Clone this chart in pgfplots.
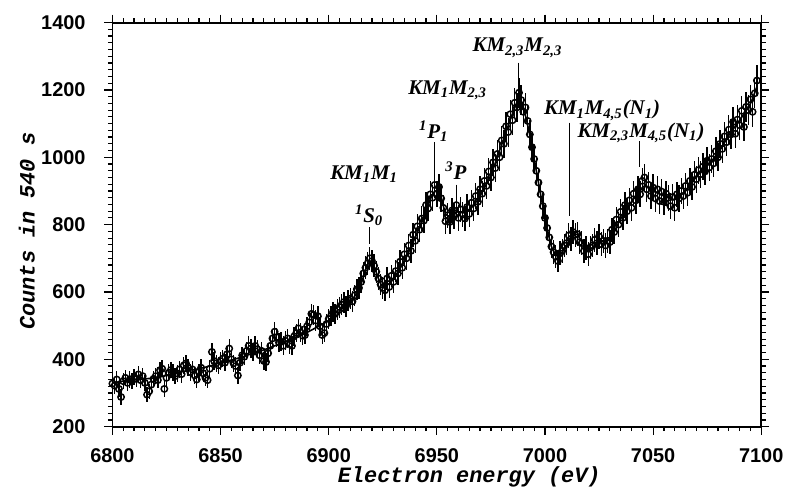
\documentclass[border=0pt]{standalone}
\usepackage{fontspec}
\setmainfont{Liberation Serif}
\newfontfamily\lblfont{Liberation Mono}
\newfontfamily\tickfont{Liberation Sans}
\usepackage{pgfplots}
\usepackage{pgfplotstable}
\pgfplotsset{compat=1.18}

% energy (eV), counts, error
\pgfplotstableread{
x y e
6800 328 24
6801 322 24
6802 340 24
6803 312 23
6804 288 23
6805 335 24
6806 345 24
6807 330 24
6808 340 24
6809 335 24
6810 348 24
6811 342 24
6812 355 25
6813 338 24
6814 350 24
6815 330 24
6816 295 23
6817 305 23
6818 325 24
6819 342 24
6820 350 24
6821 338 24
6822 368 25
6823 372 25
6824 312 23
6825 345 24
6826 360 25
6827 368 25
6828 362 25
6829 350 24
6830 358 25
6831 370 25
6832 356 25
6833 382 26
6834 388 26
6835 375 25
6836 362 25
6837 370 25
6838 352 24
6839 340 24
6840 362 25
6841 375 25
6842 358 25
6843 345 24
6844 338 24
6845 372 25
6846 422 27
6847 395 26
6848 388 26
6849 382 26
6850 395 26
6851 402 26
6852 390 26
6853 415 26
6854 432 27
6855 400 26
6856 388 26
6857 380 26
6858 352 24
6859 390 26
6860 412 26
6861 408 26
6862 425 27
6863 440 28
6864 432 27
6865 422 27
6866 440 28
6867 430 27
6868 412 26
6869 425 27
6870 395 26
6871 392 26
6872 418 27
6873 440 28
6874 462 28
6875 482 28
6876 465 28
6877 450 28
6878 452 28
6879 440 28
6880 455 28
6881 462 28
6882 445 28
6883 440 28
6884 468 28
6885 478 28
6886 492 29
6887 480 28
6888 470 28
6889 472 28
6890 498 29
6891 510 30
6892 535 30
6893 532 30
6894 515 30
6895 528 30
6896 498 29
6897 472 28
6898 478 28
6899 505 29
6900 520 30
6901 528 30
6902 540 30
6903 535 30
6904 548 30
6905 555 31
6906 562 31
6907 570 31
6908 558 31
6909 575 31
6910 580 31
6911 572 31
6912 590 32
6913 608 32
6914 612 32
6915 630 33
6916 655 33
6917 672 34
6918 685 34
6919 700 34
6920 692 34
6921 678 34
6922 660 33
6923 640 33
6924 622 32
6925 612 32
6926 605 32
6927 640 33
6928 615 32
6929 648 33
6930 630 33
6931 662 33
6932 655 34
6933 690 34
6934 672 34
6935 712 34
6936 700 35
6937 738 35
6938 722 35
6939 770 36
6940 752 36
6941 795 36
6942 785 37
6943 818 37
6944 812 37
6945 858 38
6946 848 38
6947 890 39
6948 880 39
6949 918 39
6950 892 39
6951 912 39
6952 878 39
6953 850 38
6954 810 37
6955 828 37
6956 808 37
6957 842 37
6958 825 38
6959 858 38
6960 820 38
6961 845 37
6962 830 38
6963 818 37
6964 852 38
6965 832 38
6966 865 38
6967 848 38
6968 885 38
6969 868 39
6970 905 39
6971 892 39
6972 930 39
6973 915 40
6974 958 40
6975 940 40
6976 985 40
6977 968 41
6978 1010 41
6979 1000 41
6980 1050 42
6981 1040 42
6982 1092 43
6983 1075 43
6984 1128 43
6985 1110 44
6986 1162 44
6987 1148 44
6988 1192 45
6989 1170 44
6990 1135 44
6991 1148 44
6992 1108 43
6993 1068 42
6994 1030 42
6995 995 41
6996 960 40
6997 925 40
6998 890 39
6999 855 38
7000 820 37
7001 790 37
7002 762 36
7003 735 35
7004 718 35
7005 705 35
7006 692 34
7007 715 35
7008 722 35
7009 738 35
7010 745 36
7011 768 36
7012 758 36
7013 778 36
7014 770 36
7015 772 36
7016 748 36
7017 745 35
7018 722 35
7019 730 35
7020 712 35
7021 732 35
7022 738 35
7023 755 36
7024 745 36
7025 765 36
7026 742 36
7027 752 35
7028 738 36
7029 752 35
7030 748 36
7031 785 36
7032 778 37
7033 815 37
7034 800 37
7035 838 37
7036 820 37
7037 858 38
7038 840 38
7039 872 38
7040 850 38
7041 892 39
7042 872 39
7043 905 39
7044 890 39
7045 930 39
7046 940 40
7047 905 39
7048 918 39
7049 885 39
7050 910 39
7051 878 39
7052 905 39
7053 870 39
7054 898 39
7055 868 39
7056 892 38
7057 880 39
7058 855 39
7059 882 38
7060 850 38
7061 890 38
7062 878 39
7063 900 39
7064 885 39
7065 915 39
7066 895 39
7067 930 39
7068 912 40
7069 948 40
7070 935 40
7071 962 40
7072 950 40
7073 972 40
7074 958 40
7075 990 41
7076 970 41
7077 995 41
7078 982 41
7079 1018 41
7080 1000 41
7081 1040 42
7082 1025 42
7083 1062 42
7084 1045 42
7085 1082 43
7086 1068 43
7087 1105 43
7088 1070 43
7089 1112 43
7090 1095 43
7091 1138 44
7092 1090 43
7093 1150 44
7094 1140 44
7095 1172 44
7096 1135 44
7097 1190 45
7098 1228 46
}\spectrum

\begin{document}
\begin{tikzpicture}
\begin{axis}[
  width=326pt, height=203pt, scale only axis,
  xmin=6800, xmax=7100, ymin=200, ymax=1400,
  xtick={6800,6850,...,7100},
  ytick={200,400,...,1400},
  minor x tick num=9, minor y tick num=9,
  tick align=outside,
  major tick length=4pt, minor tick length=2.3pt,
  every tick/.style={black, line width=0.6pt},
  axis line style={line width=0.9pt},
  ticklabel style={font=\tickfont\bfseries\fontsize{10}{11}\selectfont},
  xticklabel style={yshift=-3.5pt},
  yticklabel style={xshift=-6pt},
  /pgf/number format/assume math mode=true,
  /pgf/number format/1000 sep={},
  xlabel={Electron energy (eV)},
  ylabel={Counts in 540 s},
  label style={font=\lblfont\bfseries\itshape\fontsize{11}{12}\selectfont},
  xlabel style={at={(axis description cs:0.55,-0.125)}, anchor=center},
  ylabel style={at={(axis description cs:-0.132,0.484)}, anchor=center},
  clip=false,
]

% measured spectrum with error bars
\addplot[only marks, black, mark=o, mark size=1.6pt, mark options={line width=0.75pt},
  error bars/.cd, y dir=both, y explicit, error mark=none,
  error bar style={line width=0.7pt}]
  table[x=x, y=y, y error=e] {\spectrum};

% fitted curve
\addplot[black, line width=0.8pt, smooth, tension=0.4] coordinates {
(6800,330) (6805,335) (6810,340) (6815,342) (6820,345) (6825,352)
(6830,360) (6835,367) (6840,372) (6845,380) (6850,390) (6855,398)
(6860,407) (6865,418) (6870,428) (6875,440) (6880,452) (6885,465)
(6890,480) (6895,497) (6900,515) (6905,537) (6910,565) (6915,625)
(6917,665) (6919,690) (6921,675) (6923,640) (6925,615) (6928,625)
(6930,640) (6935,692) (6940,762) (6945,842) (6948,890) (6950,900)
(6952,882) (6954,832) (6956,825) (6958,835) (6960,838) (6963,835)
(6966,850) (6970,885) (6975,948) (6980,1038) (6985,1130) (6988,1175)
(6990,1150) (6993,1065) (6996,960) (7000,820) (7003,735) (7006,705)
(7009,728) (7012,762) (7015,770) (7018,740) (7021,727) (7025,750)
(7030,755) (7034,805) (7038,850) (7042,885) (7046,915) (7050,900)
(7055,885) (7060,875) (7065,900) (7070,942) (7075,975) (7080,1012)
(7085,1065) (7090,1110) (7095,1160) (7098,1210)
};

% transition labels
\begin{scope}[every node/.style={font=\bfseries\itshape\fontsize{10.5}{12}\selectfont, inner sep=0pt}]
\node at (axis cs:6916.4,949) {KM\textsubscript{1}M\textsubscript{1}};
\node at (axis cs:6918.7,828) {\textsuperscript{1}S\textsubscript{0}};
\draw[line width=0.6pt] (axis cs:6919,792) -- (axis cs:6919,741);
\node at (axis cs:6955,1198) {KM\textsubscript{1}M\textsubscript{2,3}};
\node at (axis cs:6948.6,1078) {\textsuperscript{1}P\textsubscript{1}};
\draw[line width=0.6pt] (axis cs:6949,1044) -- (axis cs:6949,955);
\node at (axis cs:6958.8,960) {\textsuperscript{3}P};
\draw[line width=0.6pt] (axis cs:6959.2,919) -- (axis cs:6959.2,889);
\node at (axis cs:6987.3,1325) {KM\textsubscript{2,3}M\textsubscript{2,3}};
\draw[line width=0.6pt] (axis cs:6987.7,1281) -- (axis cs:6987.7,1230);
\node at (axis cs:7026.4,1139) {KM\textsubscript{1}M\textsubscript{4,5}(N\textsubscript{1})};
\draw[line width=0.6pt] (axis cs:7011.5,1103) -- (axis cs:7011.5,825);
\node at (axis cs:7044.4,1073) {KM\textsubscript{2,3}M\textsubscript{4,5}(N\textsubscript{1})};
\draw[line width=0.6pt] (axis cs:7043.8,1047) -- (axis cs:7043.8,970);
\end{scope}

% page margins as in the reference
\path (rel axis cs:-0.1733,-0.153) rectangle (rel axis cs:1.0383,1.056);
\end{axis}
\end{tikzpicture}
\end{document}
